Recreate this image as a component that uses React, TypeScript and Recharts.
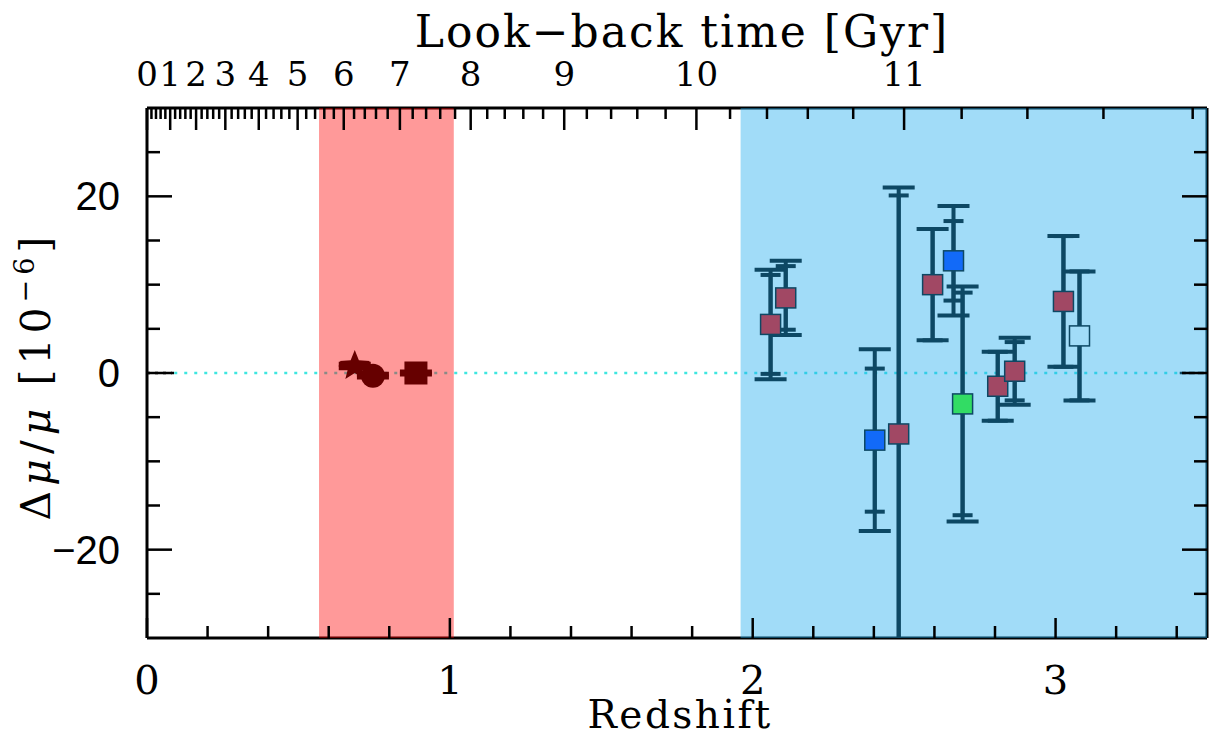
import * as R from 'recharts'
import { ComposedChart, Scatter, XAxis, YAxis, ErrorBar, ReferenceArea, ReferenceLine } from 'recharts'

// high-z points (optical H2 quasar absorbers)
const redshift = [2.059, 2.109, 2.403, 2.482, 2.594, 2.663, 2.693, 2.809, 2.865, 3.026, 3.079]
const dMuMu = [5.5, 8.5, -7.6, -6.9, 10.0, 12.7, -3.5, -1.5, 0.2, 8.1, 4.2]
const errTotal = [6.2, 4.2, 10.3, 27.9, 6.3, 6.2, 13.3, 3.9, 3.8, 7.4, 7.3]
const errStat = [5.6, 3.6, 8.1, 27.0, 6.3, 4.5, 12.6, 3.9, 3.3, 7.4, 7.3]
const pointColor = ['#ff0000', '#ff0000', '#0a3cff', '#ff0000', '#ff0000', '#0a3cff', '#40ff00', '#ff0000', '#ff0000', '#ff0000', '#ffffff']

// low-z radio points
const lowRedshift = [0.686, 0.746, 0.888]
const lowDMuMu = [0.8, -0.3, 0.0]
const lowErr = [0.2, 0.15, 0.1]
const lowMarker = ['star', 'circle', 'square']

// shaded redshift ranges
const radioRange = [0.568, 1.013]
const opticalRange = [1.96, 3.5]

// axes
const bottomTicks = [0, 0.2, 0.4, 0.6, 0.8, 1, 1.2, 1.4, 1.6, 1.8, 2, 2.2, 2.4, 2.6, 2.8, 3, 3.2, 3.4]
const yTicks = [-25, -20, -15, -10, -5, 0, 5, 10, 15, 20, 25]
const lookbackLabels = [0, 1, 2, 3, 4, 5, 6, 7, 8, 9, 10, 11]

const highData = redshift.map((z, i) => ({ z, v: dMuMu[i], tot: errTotal[i], stat: errStat[i], color: pointColor[i] }))
const lowData = lowRedshift.map((z, i) => ({ z, v: lowDMuMu[i], err: lowErr[i], marker: lowMarker[i] }))

// flat LCDM, used only to place the look-back time ticks
const H0 = 71
const OMEGA_M = 0.27
function lookback(z: number) {
  const n = 400
  let s = 0
  for (let i = 0; i < n; i++) {
    const zz = ((i + 0.5) * z) / n
    s += 1 / ((1 + zz) * Math.sqrt(OMEGA_M * Math.pow(1 + zz, 3) + 1 - OMEGA_M))
  }
  return (977.8 / H0) * (s * z) / n
}
function zAtLookback(t: number) {
  let lo = 0
  let hi = 10
  for (let k = 0; k < 50; k++) {
    const mid = (lo + hi) / 2
    if (lookback(mid) < t) lo = mid
    else hi = mid
  }
  return (lo + hi) / 2
}

const topTicks: { z: number; t: number; major: boolean }[] = []
for (let k = 0; k <= 60; k++) {
  const t = k * 0.2
  const z = t === 0 ? 0 : zAtLookback(t)
  if (z > 3.5) break
  topTicks.push({ z, t, major: k % 5 === 0 })
}

const SERIF = '"DejaVu Serif", serif'
const SANS = '"Liberation Sans", Arial, sans-serif'
const AXIS = '#000'

function PlotClip() {
  const area = (R as any).usePlotArea ? (R as any).usePlotArea() : undefined
  const a = area ?? { x: 147, y: 108, width: 1060, height: 530 }
  return (
    <defs>
      <clipPath id="plot-clip">
        <rect x={a.x} y={a.y} width={a.width} height={a.height} />
      </clipPath>
    </defs>
  )
}

function BottomTick(p: any) {
  const v = p.payload.value
  const major = Math.abs(v - Math.round(v)) < 1e-6
  return (
    <g>
      <line x1={p.x} x2={p.x} y1={p.y} y2={p.y - (major ? 20 : 12)} stroke={AXIS} strokeWidth={2.5} />
      {major && (
        <text x={p.x} y={p.y + 56} textAnchor="middle" fontFamily={SERIF} fontSize={40} fill="#000">
          {v}
        </text>
      )}
    </g>
  )
}

function TopTick(p: any) {
  const tk = topTicks.find((d) => Math.abs(d.z - p.payload.value) < 1e-6) ?? topTicks[p.index]
  const major = tk ? tk.major : false
  const label = tk && major ? lookbackLabels.find((l) => Math.abs(l - tk.t) < 1e-6) : undefined
  return (
    <g>
      <line x1={p.x} x2={p.x} y1={p.y} y2={p.y + (major ? 22 : 11)} stroke={AXIS} strokeWidth={2.5} />
      {label !== undefined && (
        <text x={p.x} y={p.y - 22} textAnchor="middle" fontFamily={SERIF} fontSize={34} fill="#000">
          {label}
        </text>
      )}
    </g>
  )
}

function LeftTick(p: any) {
  const v = p.payload.value
  const major = v % 20 === 0
  return (
    <g>
      <line x1={p.x} x2={p.x + (major ? 25 : 13)} y1={p.y} y2={p.y} stroke={AXIS} strokeWidth={2.5} />
      {major && (
        <text x={p.x - 27} y={p.y + 14} textAnchor="end" fontFamily={SANS} fontSize={40} fill="#000">
          {v < 0 ? '\u2212' + Math.abs(v) : v}
        </text>
      )}
    </g>
  )
}

function RightTick(p: any) {
  const v = p.payload.value
  const major = v % 20 === 0
  return <line x1={p.x} x2={p.x - (major ? 25 : 13)} y1={p.y} y2={p.y} stroke={AXIS} strokeWidth={2.5} />
}

function HighShape(p: any) {
  const s = 20
  return (
    <rect x={p.cx - s / 2} y={p.cy - s / 2} width={s} height={s} fill={p.payload.color} stroke="#000" strokeWidth={1.5} />
  )
}

function LowShape(p: any) {
  const m = p.payload.marker
  if (m === 'circle') return <circle cx={p.cx} cy={p.cy} r={12} fill="#000" />
  if (m === 'square') return <rect x={p.cx - 11.5} y={p.cy - 11.5} width={23} height={23} fill="#000" />
  const pts: string[] = []
  for (let i = 0; i < 10; i++) {
    const r = i % 2 === 0 ? 16 : 7
    const a = -Math.PI / 2 + (i * Math.PI) / 5
    pts.push(`${p.cx + r * Math.cos(a)},${p.cy + r * Math.sin(a)}`)
  }
  return <polygon points={pts.join(' ')} fill="#000" />
}

function NoShape() {
  return <g />
}

export default function App() {
  return (
    <div style={{ position: 'absolute', left: 0, top: 0, width: 1211, height: 737, background: '#fff' }}>
      <ComposedChart width={1211} height={737} margin={{ top: 48, right: 3, bottom: 39, left: 47 }}>
        <PlotClip />
        <XAxis
          xAxisId="z"
          dataKey="z"
          type="number"
          domain={[0, 3.5]}
          allowDataOverflow
          ticks={bottomTicks}
          interval={0}
          height={60}
          tickSize={0}
          tickMargin={0}
          tickLine={false}
          tick={<BottomTick />}
          axisLine={{ stroke: AXIS, strokeWidth: 3 }}
          label={({ viewBox }: any) => (
            <text x={viewBox.x + viewBox.width / 2 + 3} y={viewBox.y + 90} textAnchor="middle" fontFamily={SERIF} fontSize={39} letterSpacing={2.5} fill="#000">
              Redshift
            </text>
          )}
        />
        <XAxis
          xAxisId="top"
          dataKey="z"
          orientation="top"
          type="number"
          domain={[0, 3.5]}
          allowDataOverflow
          ticks={topTicks.map((d) => d.z)}
          interval={0}
          height={60}
          tickSize={0}
          tickMargin={0}
          tickLine={false}
          tick={<TopTick />}
          axisLine={{ stroke: AXIS, strokeWidth: 3 }}
          label={({ viewBox }: any) => (
            <text x={viewBox.x + viewBox.width / 2 + 5} y={viewBox.y - 1} textAnchor="middle" fontFamily={SERIF} fontSize={44} letterSpacing={2} fill="#000">
              Look{'\u2212'}back time [Gyr]
            </text>
          )}
        />
        <YAxis
          yAxisId="l"
          type="number"
          domain={[-30, 30]}
          allowDataOverflow
          ticks={yTicks}
          interval={0}
          width={100}
          tickSize={0}
          tickMargin={0}
          tickLine={false}
          tick={<LeftTick />}
          axisLine={{ stroke: AXIS, strokeWidth: 3 }}
          label={() => (
            <text x={50} y={376} transform="rotate(-90 50 376)" textAnchor="middle" fontFamily={SERIF} fontSize={41} letterSpacing={5} fill="#000">
              {'\u0394'}
              <tspan fontStyle="italic">{'\u03bc'}</tspan>/<tspan fontStyle="italic">{'\u03bc'}</tspan> [10
              <tspan fontSize={27} dy={-16}>{'\u2212'}6</tspan>
              <tspan dy={16}>]</tspan>
            </text>
          )}
        />
        <YAxis
          yAxisId="r"
          orientation="right"
          type="number"
          domain={[-30, 30]}
          allowDataOverflow
          ticks={yTicks}
          interval={0}
          width={1}
          tickSize={0}
          tickMargin={0}
          tickLine={false}
          tick={<RightTick />}
          axisLine={{ stroke: AXIS, strokeWidth: 3 }}
        />

        {/* invisible series so the look-back axis gets a scale */}
        <Scatter xAxisId="top" yAxisId="r" data={highData} dataKey="v" isAnimationActive={false} shape={<NoShape />} />

        <ReferenceLine xAxisId="z" yAxisId="l" segment={[{ x: 0, y: 0 }, { x: 0.09, y: 0 }]} stroke="#000" strokeWidth={2.5} strokeDasharray="3 5" />
        <ReferenceLine xAxisId="z" yAxisId="l" segment={[{ x: 0.09, y: 0 }, { x: 3.41, y: 0 }]} stroke="#3ee6e0" strokeWidth={2.5} strokeDasharray="3 7" />
        <ReferenceLine xAxisId="z" yAxisId="l" segment={[{ x: 3.41, y: 0 }, { x: 3.5, y: 0 }]} stroke="#000" strokeWidth={2.5} strokeDasharray="6 3" />

        <Scatter xAxisId="z" yAxisId="l" data={lowData} dataKey="v" isAnimationActive={false} shape={<LowShape />}>
          <ErrorBar dataKey="err" direction="y" width={16} strokeWidth={5} stroke="#000" />
        </Scatter>
        <Scatter xAxisId="z" yAxisId="l" data={highData} dataKey="v" isAnimationActive={false} shape={<HighShape />}>
          <ErrorBar dataKey="tot" direction="y" width={16} strokeWidth={4} stroke="#000" clipPath="url(#plot-clip)" />
          <ErrorBar dataKey="stat" direction="y" width={10} strokeWidth={4} stroke="#000" clipPath="url(#plot-clip)" />
        </Scatter>

        <ReferenceArea xAxisId="z" yAxisId="l" x1={radioRange[0]} x2={radioRange[1]} fill="#ff0000" fillOpacity={0.4} stroke="none" zIndex={1000} />
        <ReferenceArea xAxisId="z" yAxisId="l" x1={opticalRange[0]} x2={opticalRange[1]} fill="#1fabee" fillOpacity={0.42} stroke="none" zIndex={1000} />
      </ComposedChart>
    </div>
  )
}
